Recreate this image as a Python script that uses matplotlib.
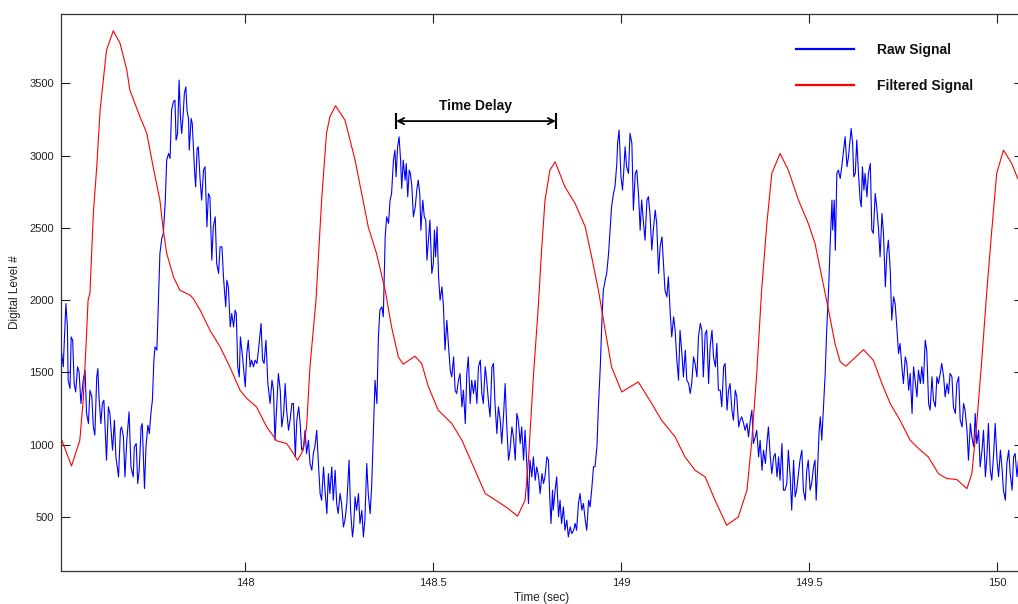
import matplotlib
matplotlib.use("Agg")
import matplotlib.pyplot as plt

plt.rcParams['font.family'] = ['Liberation Sans', 'DejaVu Sans']

# ---------------- data ----------------
raw_t = [
 147.512,147.516,147.523,147.527,147.529,147.534,147.537,147.541,147.545,147.549,
 147.554,147.558,147.563,147.569,147.574,147.578,147.583,147.587,147.592,147.596,
 147.600,147.605,147.608,147.611,147.616,147.620,147.624,147.627,147.631,147.636,
 147.640,147.647,147.652,147.656,147.663,147.668,147.671,147.676,147.680,147.685,
 147.691,147.696,147.702,147.705,147.710,147.714,147.718,147.723,147.726,147.732,
 147.736,147.741,147.745,147.749,147.753,147.757,147.760,147.765,147.769,147.773,
 147.778,147.782,147.787,147.791,147.796,147.800,147.804,147.809,147.813,147.816,
 147.820,147.824,147.828,147.831,147.835,147.838,147.842,147.845,147.849,147.851,
 147.856,147.859,147.865,147.868,147.872,147.875,147.880,147.884,147.889,147.893,
 147.898,147.902,147.906,147.911,147.915,147.920,147.924,147.929,147.933,147.938,
 147.942,147.948,147.951,147.955,147.960,147.964,147.969,147.973,147.976,147.980,
 147.984,147.987,147.991,147.995,148.000,148.004,148.008,148.013,148.017,148.022,
 148.026,148.031,148.035,148.042,148.046,148.050,148.055,148.060,148.066,148.071,
 148.075,148.079,148.084,148.088,148.093,148.097,148.102,148.106,148.110,148.115,
 148.119,148.124,148.128,148.133,148.137,148.142,148.146,148.150,148.155,
 148.159,148.163,148.168,148.172,148.177,148.181,148.185,148.190,148.194,148.199,
 148.203,148.208,148.212,148.217,148.221,148.225,148.230,148.234,148.239,148.243,
 148.247,148.252,148.256,148.261,148.265,148.270,148.276,148.280,148.285,148.288,
 148.292,148.296,148.301,148.305,148.310,148.314,148.318,148.323,148.327,148.332,
 148.336,148.341,148.345,148.350,148.354,148.358,148.363,148.367,148.372,148.376,
 148.381,148.385,148.389,148.394,148.398,148.401,148.405,148.409,148.413,148.416,
 148.420,148.425,148.428,148.432,148.436,148.439,148.443,148.447,148.452,148.456,
 148.460,148.464,148.467,148.472,148.476,148.480,148.483,148.487,148.491,148.496,
 148.500,148.503,148.506,148.510,148.514,148.518,148.523,148.527,148.531,148.536,
 148.540,148.545,148.549,148.554,148.558,148.562,148.567,148.571,148.576,148.580,
 148.585,148.589,148.593,148.598,148.602,148.607,148.611,148.616,148.620,148.625,
 148.629,148.633,148.638,148.642,148.647,148.651,148.656,148.660,148.664,148.669,
 148.673,148.678,148.682,148.687,148.691,148.695,148.700,148.704,148.709,148.713,
 148.718,148.722,148.726,148.731,148.735,148.740,148.744,148.749,148.753,148.757,
 148.762,148.766,148.771,148.775,148.780,148.784,148.789,148.793,
 148.797,148.802,148.806,148.810,148.813,148.817,148.819,148.824,148.828,148.833,
 148.837,148.841,148.846,148.850,148.855,148.859,148.864,148.868,148.873,148.877,
 148.881,148.886,148.890,148.895,148.899,148.904,148.908,148.913,148.917,148.921,
 148.926,148.930,148.935,148.939,148.944,148.948,148.952,148.957,148.961,148.966,
 148.970,148.974,148.979,148.983,148.988,148.990,148.994,148.997,148.999,149.003,
 149.006,149.010,149.014,149.019,149.023,149.028,149.032,149.037,149.041,149.046,
 149.050,149.054,149.059,149.063,149.068,149.072,149.076,149.081,149.085,149.090,
 149.094,149.099,149.103,149.108,149.112,149.116,149.121,149.125,149.130,149.134,
 149.139,149.143,149.147,149.152,149.156,149.161,149.165,149.170,149.174,149.179,
 149.183,149.187,149.192,149.196,149.201,149.205,149.210,149.214,149.218,149.223,
 149.227,149.232,149.236,149.241,149.245,149.250,149.254,149.258,149.263,149.267,
 149.272,149.276,149.281,149.285,149.289,149.294,149.298,149.303,149.307,149.312,
 149.316,149.320,149.325,149.329,149.334,149.338,149.343,149.347,149.351,149.356,
 149.360,149.365,149.369,149.374,149.378,149.383,149.387,149.391,149.396,149.400,
 149.405,149.409,149.414,149.418,149.422,149.427,149.431,
 149.435,149.440,149.444,149.449,149.453,149.458,149.462,149.466,149.471,149.475,
 149.480,149.484,149.489,149.493,149.497,149.502,149.506,149.511,149.515,149.518,
 149.522,149.526,149.529,149.533,149.537,149.542,149.546,149.551,149.555,149.560,
 149.562,149.566,149.569,149.573,149.577,149.582,149.586,149.591,149.595,149.600,
 149.604,149.608,149.611,149.615,149.618,149.622,149.626,149.631,149.635,149.638,
 149.641,149.645,149.648,149.653,149.657,149.662,149.666,149.670,149.675,149.679,
 149.684,149.688,149.693,149.697,149.702,149.706,149.710,149.715,149.719,149.724,
 149.728,149.733,149.737,149.741,149.746,149.750,149.755,149.759,149.764,149.768,
 149.773,149.777,149.781,149.786,149.790,149.795,149.799,149.803,149.808,149.812,
 149.817,149.821,149.826,149.830,149.835,149.839,149.843,149.848,149.852,149.857,
 149.861,149.866,149.870,149.874,149.879,149.883,149.888,149.892,149.897,149.901,
 149.906,149.910,149.914,149.919,149.923,149.928,149.932,149.937,149.941,149.945,
 149.950,149.954,149.959,149.963,149.968,149.972,149.976,149.981,149.985,149.990,
 149.994,149.999,150.003,150.008,150.012,150.016,150.021,150.025,150.030,150.034,
 150.039,150.043,150.047,150.052,150.056,
]
raw_v = [
 1631,1539,1977,1815,1446,1389,1746,1723,1423,1365,
 1539,1504,1285,1446,1515,1216,1146,1377,1331,1123,
 1066,1469,1527,1331,1146,1285,1308,1123,893,1262,
 1216,962,1169,916,777,1100,1123,1054,777,1031,
 1227,846,777,985,1008,731,823,1123,1146,697,
 985,1135,1077,1216,1308,1585,1677,1654,2000,2323,
 2427,2461,2669,2969,3015,2980,3315,3373,3384,3107,
 3153,3523,3246,3153,3292,3430,3476,3315,3257,3038,
 3257,3223,2900,2784,3050,3061,2830,2692,2900,2923,
 2508,2738,2715,2277,2508,2577,2254,2185,2369,2369,
 2161,1954,2138,2092,1815,1908,1815,1931,1908,1539,
 1469,1746,1654,1539,1400,1631,1723,1539,1585,1539,
 1585,1562,1654,1838,1585,1562,1723,1423,1285,1446,
 1377,1031,1285,1492,1377,1123,1216,1423,1239,1100,
 1169,1285,1285,916,1169,1262,1146,962,985,
 1100,939,1031,870,823,939,985,1100,893,662,
 616,846,685,523,800,662,846,616,823,593,
 523,662,593,431,477,593,893,546,362,431,
 639,546,662,454,546,362,477,870,662,523,
 708,1123,1446,1285,1746,1931,1954,1885,2438,2577,
 2531,2692,2738,2969,3038,2854,3061,3130,2969,2773,
 2969,2830,2946,2715,2900,2877,2784,2577,2646,2761,
 2830,2738,2484,2692,2577,2554,2277,2415,2554,2185,
 2254,2484,2300,2508,2161,2000,2092,1954,1654,1861,
 1700,1515,1469,1608,1377,1354,1446,1492,1262,1377,
 1146,1492,1608,1285,1446,1354,1446,1285,1539,1585,
 1354,1285,1539,1446,1285,1193,1539,1562,1285,1077,
 1262,1169,1008,1216,1423,1146,893,962,1123,1054,
 893,1216,1169,1008,1123,893,1100,846,593,893,
 777,916,754,846,777,662,800,731,
 778,916,893,616,455,685,547,685,778,501,
 616,455,570,408,478,362,431,385,408,455,
 408,593,662,547,593,478,408,616,570,685,
 847,847,985,1262,1539,1839,2069,2138,2185,2323,
 2484,2646,2738,2784,2946,3085,3177,2992,2854,2762,
 2877,3062,2923,2877,3154,3085,2623,2877,2900,2716,
 2484,2693,2531,2415,2693,2716,2600,2346,2484,2623,
 2531,2185,2369,2438,2254,2069,2023,2162,1908,1746,
 1885,1792,1608,1446,1792,1631,1469,1654,1446,1423,
 1354,1423,1608,1562,1469,1746,1839,1792,1469,1769,
 1792,1423,1677,1792,1608,1539,1700,1377,1377,1262,
 1539,1562,1239,1377,1423,1239,1170,1377,1331,1123,
 1170,1193,1147,1100,1147,1054,1170,1239,1008,1054,
 1100,916,1031,823,962,870,1008,1123,916,800,
 916,939,778,916,754,1008,685,
 685,731,962,778,547,893,639,685,800,893,
 962,685,616,823,893,685,731,847,893,616,
 847,1100,1193,1031,1239,1493,1792,2069,2369,2692,
 2485,2692,2346,2877,2900,2842,2923,3038,3131,2923,
 2992,3108,3188,3085,2854,2877,3108,2854,2692,2646,
 2923,2761,2877,2715,2877,2946,2485,2462,2738,2646,
 2485,2300,2600,2462,2092,2323,2415,2208,1862,2023,
 1977,1792,1631,1700,1539,1423,1608,1562,1377,1493,
 1216,1539,1446,1331,1516,1423,1539,1423,1723,1654,
 1285,1239,1470,1308,1262,1470,1423,1493,1562,1470,
 1331,1423,1354,1493,1470,1262,1216,1423,1470,1170,
 1123,1285,1239,1100,893,1147,1054,985,1216,1008,
 1100,847,962,1100,778,916,1147,823,754,939,
 1147,893,778,962,847,685,616,870,962,800,
 685,916,939,778,893,
]

filt_t = [
 147.510,147.538,147.560,147.569,147.576,147.582,147.587,147.596,147.605,147.614,
 147.631,147.649,147.667,147.685,147.693,147.720,147.738,147.755,147.773,147.782,
 147.791,147.809,147.826,147.853,147.861,147.880,147.906,147.933,147.959,147.986,
 148.004,148.030,148.057,148.084,148.110,148.128,148.139,148.154,148.163,148.172,
 148.188,148.203,148.216,148.225,148.240,148.265,148.292,148.327,148.349,148.372,
 148.389,148.407,148.420,148.451,148.469,148.487,148.513,148.549,148.576,148.611,
 148.638,148.673,148.699,148.724,148.744,148.753,148.766,148.779,148.788,148.797,
 148.810,148.824,148.850,148.877,148.904,148.921,148.939,148.957,148.974,149.001,
 149.045,149.081,149.107,149.143,149.169,149.196,149.223,149.249,149.280,149.311,
 149.334,149.347,149.360,149.373,149.387,149.400,149.422,149.444,149.471,149.497,
 149.515,149.533,149.551,149.568,149.582,149.597,149.644,149.670,149.693,149.715,
 149.741,149.768,149.790,149.816,149.843,149.865,149.892,149.919,149.932,149.945,
 149.959,149.972,149.985,149.998,150.016,150.038,150.054,
]
filt_v = [
 1045,853,1030,1308,1654,2000,2048,2600,2921,3315,
 3730,3864,3777,3592,3454,3269,3156,2923,2692,2485,
 2325,2161,2069,2035,2014,1931,1792,1677,1538,1377,
 1320,1261,1123,1026,1008,939,892,962,1123,1538,
 2000,2692,3155,3269,3345,3246,2969,2507,2323,2069,
 1815,1607,1557,1612,1562,1400,1239,1147,1031,823,
 662,604,558,505,616,893,1469,1950,2350,2692,
 2900,2957,2784,2669,2507,2300,2069,1792,1538,1365,
 1434,1284,1169,1054,916,823,777,616,443,500,
 685,1031,1492,2069,2531,2877,3015,2900,2692,2531,
 2392,2161,1931,1700,1573,1543,1658,1584,1423,1284,
 1169,1031,974,916,800,766,759,696,800,1146,
 1607,2069,2484,2877,3038,2946,2842,
]

x_ticks = [148, 148.5, 149, 149.5, 150]
x_tick_labels = ['148', '148.5', '149', '149.5', '150']
y_ticks = [500, 1000, 1500, 2000, 2500, 3000, 3500]
y_tick_labels = ['500', '1000', '1500', '2000', '2500', '3000', '3500']

series_labels = ['Raw Signal', 'Filtered Signal']
delay_start, delay_end, delay_level = 148.401, 148.826, 3239

# ---------------- figure ----------------
fig = plt.figure(figsize=(10.18, 6.04), dpi=100)
ax = fig.add_axes([61/1018, 33/604, 962/1018, 557/604])

ax.plot(raw_t, raw_v, color='#0000ff', lw=0.8, label=series_labels[0])
ax.plot(filt_t, filt_v, color='#ff0000', lw=0.8, label=series_labels[1])

ax.set_xlim(147.51, 150.068)
ax.set_ylim(126, 3980)

ax.set_xticks(x_ticks)
ax.set_xticklabels(x_tick_labels)
ax.set_yticks(y_ticks)
ax.set_yticklabels(y_tick_labels)
ax.tick_params(direction='in', length=6.5, width=0.8, labelsize=8,
               colors='#222222', top=True, right=True, pad=5)
for s in ax.spines.values():
    s.set_color('#333333')
    s.set_linewidth(0.9)

ax.set_xlabel('Time (sec)', fontsize=8.5, color='#222222')
ax.xaxis.set_label_coords(0.5, -0.038)
ax.set_ylabel('Digital Level #', fontsize=8.5, color='#222222')
ax.yaxis.set_label_coords(-0.042, 0.5)

# annotation
ax.annotate('', xy=(delay_start, delay_level), xytext=(delay_end, delay_level),
            arrowprops=dict(arrowstyle='<->', color='black', lw=1.3,
                            shrinkA=0, shrinkB=0, mutation_scale=11))
for xe in (delay_start, delay_end):
    ax.plot([xe, xe], [delay_level - 48, delay_level + 48], color='black', lw=1.5)
ax.text((delay_start + delay_end) / 2, 3345, 'Time Delay', ha='center',
        va='center', fontsize=10, fontweight='bold', color='#111111')

leg = ax.legend(loc='upper left', bbox_to_anchor=((796 - 61) / 962, 0.948),
                frameon=False, borderaxespad=0, borderpad=0,
                handlelength=4.2, handletextpad=1.6, labelspacing=1.56,
                prop={'size': 10, 'weight': 'bold'})
for t in leg.get_texts():
    t.set_color('#111111')
for h in leg.get_lines():
    h.set_linewidth(1.6)

fig.savefig('out.png', dpi=100)
